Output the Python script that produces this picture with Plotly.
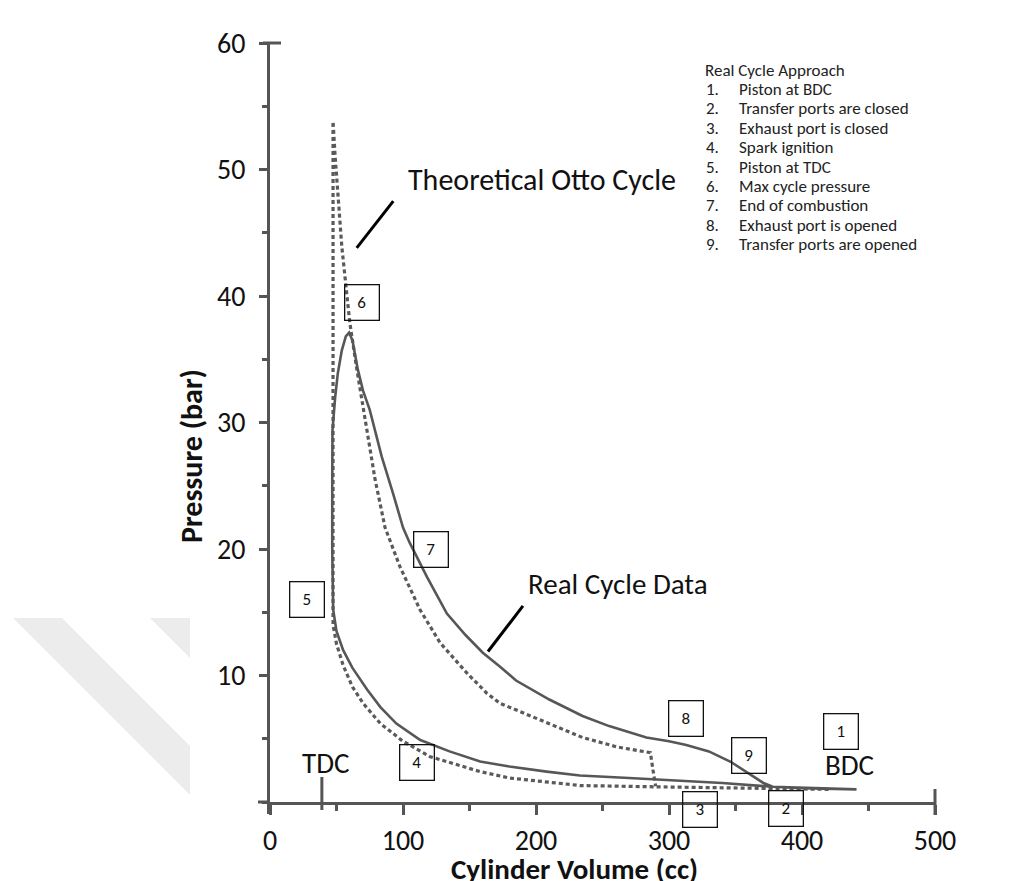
import plotly.graph_objects as go

# ---------------- data ----------------
# Real cycle (solid line): cylinder volume (cc) / pressure (bar), traced around the loop
real_volume = [441, 400, 378, 340, 300, 270, 233, 208, 180, 158, 135, 113, 95, 83, 73,
               62, 55, 50, 47.5, 46.8, 46.8, 47, 49, 51, 54, 57, 59.5, 62, 66, 70, 75,
               84, 92.5, 100, 105, 118, 133, 147, 160, 173, 185, 198, 210, 235, 255,
               283, 300, 313, 330, 346, 355, 363, 371, 378, 400, 441]
real_pressure = [1.0, 1.1, 1.2, 1.5, 1.75, 1.9, 2.1, 2.4, 2.8, 3.2, 4.0, 4.9, 6.2, 7.5, 8.9,
                 10.6, 12.0, 13.5, 15.2, 20, 25, 29.4, 32, 33.9, 35.7, 36.8, 37.1, 36.5, 34.2, 32.5, 31,
                 27.3, 24.4, 21.7, 20.5, 17.8, 14.9, 13.2, 11.8, 10.7, 9.6, 8.8, 8.1, 6.8, 6.0,
                 5.1, 4.8, 4.5, 4.0, 3.2, 2.6, 2.0, 1.5, 1.2, 1.1, 1.0]

# Theoretical Otto cycle (dotted line)
otto_volume = [420, 380, 340, 290, 233, 208, 180, 158, 120, 100, 83, 70, 62, 55, 50, 47.4,
               47.4, 49, 51, 54, 58, 60, 65, 71.4, 79, 86.5, 97.7, 112.8, 127.8, 148, 163,
               173, 203, 235, 261, 286, 288, 290]
otto_pressure = [1.0, 1.05, 1.1, 1.2, 1.3, 1.6, 1.9, 2.4, 3.6, 4.8, 6.2, 7.8, 9.1, 10.8, 12.5, 14.0,
                 53.8, 51, 47.8, 43.9, 39.9, 37.9, 34.4, 30.2, 25.5, 21.7, 18.6, 15.2, 12.6, 10.2, 8.6,
                 7.8, 6.5, 5.1, 4.35, 3.9, 2.5, 1.25]

x_ticks = [0, 100, 200, 300, 400, 500]
y_ticks = [10, 20, 30, 40, 50, 60]

legend_title = "Real Cycle Approach"
legend_items = ["Piston at BDC", "Transfer ports are closed", "Exhaust port is closed",
                "Spark ignition", "Piston at TDC", "Max cycle pressure", "End of combustion",
                "Exhaust port is opened", "Transfer ports are opened"]
point_labels = ["1", "2", "3", "4", "5", "6", "7", "8", "9"]

# ---------------- layout geometry ----------------
OFF = 8                                  # page body margin of the html page
W, H = 1011 - OFF, 881 - OFF
L, R, T, B = 270, 935, 43, 802          # plot-area edges in screenshot pixels
FONT = "Calibri, Carlito, Lato, 'Open Sans', sans-serif"
LINE_C = "#575757"
AXIS_C = "#555555"
LEG_SIZE = 17


def px(xp):      # screenshot pixel x -> paper x
    return (xp - L) / (R - L)


def py(yp):      # screenshot pixel y -> paper y
    return (B - yp) / (B - T)


fig = go.Figure()

fig.add_trace(go.Scatter(x=otto_volume, y=otto_pressure, mode="lines",
                         line=dict(color="#5a5a5a", width=3.2, dash="4px,3px"),
                         hoverinfo="skip", showlegend=False))
fig.add_trace(go.Scatter(x=real_volume, y=real_pressure, mode="lines",
                         line=dict(color=LINE_C, width=2.6),
                         hoverinfo="skip", showlegend=False))

shapes = []
# watermark bands (left)
shapes.append(dict(type="path", xref="paper", yref="paper", layer="below",
                   path=f"M {px(13)} {py(618)} L {px(62)} {py(618)} L {px(190)} {py(746)} L {px(190)} {py(795)} Z",
                   fillcolor="#ececec", line=dict(width=0)))
shapes.append(dict(type="path", xref="paper", yref="paper", layer="below",
                   path=f"M {px(150)} {py(618)} L {px(190)} {py(618)} L {px(190)} {py(658)} Z",
                   fillcolor="#ececec", line=dict(width=0)))
# small axis overshoots of the scanned frame
shapes.append(dict(type="line", xref="paper", yref="paper", x0=px(258), x1=px(270), y0=0, y1=0,
                   line=dict(color=AXIS_C, width=3)))
shapes.append(dict(type="line", xref="paper", yref="paper", x0=px(268.5), x1=px(268.5), y0=py(814), y1=0,
                   line=dict(color=AXIS_C, width=3)))
shapes.append(dict(type="line", xref="paper", yref="paper", x0=px(263), x1=px(281), y0=1, y1=1,
                   line=dict(color=AXIS_C, width=3)))
# x-axis end cap
shapes.append(dict(type="line", xref="paper", yref="paper", x0=1, x1=1, y0=py(815), y1=py(789),
                   line=dict(color=AXIS_C, width=3)))
# TDC marker
shapes.append(dict(type="line", xref="x", yref="paper", x0=39, x1=39, y0=py(810), y1=py(777),
                   line=dict(color=AXIS_C, width=3)))
# pointer lines
shapes.append(dict(type="line", xref="x", yref="y", x0=65.2, y0=43.8, x1=92.7, y1=47.5,
                   line=dict(color="black", width=3)))
shapes.append(dict(type="line", xref="x", yref="y", x0=163.9, y0=11.9, x1=190.2, y1=15.5,
                   line=dict(color="black", width=3)))

ann = []
# numbered boxes (x in cc, y in bar; two of them sit below the axis -> paper y)
box_pos = {"1": (429.3, 5.6, "y"), "2": (388, py(808), "paper"), "3": (323.3, py(809), "paper"),
           "4": (110.5, 3.16, "y"), "5": (27.8, 15.97, "y"), "6": (69.2, 39.45, "y"),
           "7": (121.1, 20.0, "y"), "8": (312.8, 6.64, "y"), "9": (360.2, 3.64, "y")}
for lab in point_labels:
    x, y, yr = box_pos[lab]
    ann.append(dict(x=x, y=y, xref="x", yref=yr, text=lab, showarrow=False,
                    font=dict(family=FONT, size=17, color="#111"),
                    bordercolor="#111", borderwidth=1.3, borderpad=1,
                    width=31, height=32, bgcolor="rgba(255,255,255,0)",
                    xanchor="center", yanchor="middle"))

# big labels
ann.append(dict(x=204.5, y=49.2, xref="x", yref="y", text="Theoretical Otto Cycle", showarrow=False,
                font=dict(family=FONT, size=30, color="#111"), xanchor="center", yanchor="middle"))
ann.append(dict(x=261.7, y=17.2, xref="x", yref="y", text="Real Cycle Data", showarrow=False,
                font=dict(family=FONT, size=29, color="#111"), xanchor="center", yanchor="middle"))
ann.append(dict(x=41.4, y=3.1, xref="x", yref="y", text="TDC", showarrow=False,
                font=dict(family=FONT, size=29, color="#111"), xanchor="center", yanchor="middle"))
ann.append(dict(x=436, y=2.9, xref="x", yref="y", text="BDC", showarrow=False,
                font=dict(family=FONT, size=29, color="#111"), xanchor="center", yanchor="middle"))

# axis titles
ann.append(dict(x=px(574), y=py(869), xref="paper", yref="paper", text="<b>Cylinder Volume (cc)</b>",
                showarrow=False, font=dict(family=FONT, size=29, color="#111"),
                xanchor="center", yanchor="middle"))
ann.append(dict(x=px(191), y=py(456), xref="paper", yref="paper", text="<b>Pressure (bar)</b>",
                showarrow=False, textangle=-90, font=dict(family=FONT, size=30, color="#111"),
                xanchor="center", yanchor="middle"))

# legend block (top right)
ann.append(dict(x=px(703), y=py(70), xref="paper", yref="paper", text=legend_title, showarrow=False,
                font=dict(family=FONT, size=LEG_SIZE, color="#222"), xanchor="left", yanchor="middle"))
for i, item in enumerate(legend_items):
    yy = py(89.4 + 19.4 * i)
    ann.append(dict(x=px(704), y=yy, xref="paper", yref="paper", text=f"{i + 1}.", showarrow=False,
                    font=dict(family=FONT, size=LEG_SIZE, color="#222"), xanchor="left", yanchor="middle"))
    ann.append(dict(x=px(737), y=yy, xref="paper", yref="paper", text=item, showarrow=False,
                    font=dict(family=FONT, size=LEG_SIZE, color="#222"), xanchor="left", yanchor="middle"))

fig.update_layout(
    width=W, height=H,
    margin=dict(l=L - OFF, r=W - (R - OFF), t=T - OFF, b=H - (B - OFF), pad=0, autoexpand=False),
    paper_bgcolor="white", plot_bgcolor="white",
    font=dict(family=FONT, color="#111"),
    shapes=shapes, annotations=ann, showlegend=False,
    xaxis=dict(range=[0, 500], tickvals=x_ticks, ticktext=[str(v) for v in x_ticks],
               showgrid=False, zeroline=False, showline=True, linecolor=AXIS_C, linewidth=3,
               ticks="outside", ticklen=10, tickwidth=3, tickcolor=AXIS_C,
               minor=dict(dtick=50, ticks="outside", ticklen=6, tickwidth=3, tickcolor=AXIS_C, showgrid=False),
               tickfont=dict(family=FONT, size=28, color="#111"), ticklabelstandoff=1),
    yaxis=dict(range=[0, 60], tickvals=y_ticks, ticktext=[str(v) for v in y_ticks],
               showgrid=False, zeroline=False, showline=True, linecolor=AXIS_C, linewidth=3,
               ticks="outside", ticklen=8, tickwidth=3, tickcolor=AXIS_C,
               minor=dict(dtick=5, ticks="outside", ticklen=5, tickwidth=3, tickcolor=AXIS_C, showgrid=False),
               tickfont=dict(family=FONT, size=28, color="#111"), ticklabelstandoff=8),
)

fig.write_html("out.html")
